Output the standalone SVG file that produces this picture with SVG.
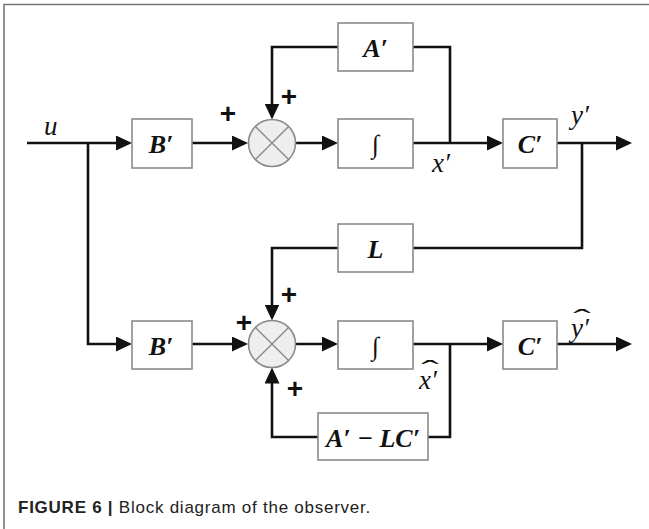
<svg xmlns="http://www.w3.org/2000/svg" width="649" height="529" viewBox="0 0 649 529">
<style>
.wire{fill:none;stroke:#111;stroke-width:2.6}
.box{fill:#fff;stroke:#8a8a8a;stroke-width:1.6}
.sum{fill:#eeeeee;stroke:#8a8a8a;stroke-width:1.6}
.sx{stroke:#8a8a8a;stroke-width:1.4}
.m{font-family:"Liberation Serif","DejaVu Serif",serif;font-weight:bold;font-style:italic;font-size:26px;fill:#111;text-anchor:middle;dominant-baseline:central}
.v{font-family:"Liberation Serif","DejaVu Serif",serif;font-style:italic;font-size:27px;fill:#111}
.hat{font-family:"Liberation Serif","DejaVu Serif",serif;font-size:26px;fill:#111;text-anchor:middle}
.int{font-family:"Liberation Serif","DejaVu Serif",serif;font-size:26px;fill:#111;text-anchor:middle;dominant-baseline:central}
.pl{font-family:"Liberation Sans",Arial,sans-serif;font-weight:bold;font-size:28px;fill:#111;text-anchor:middle;dominant-baseline:central}
.cap{font-family:"Liberation Sans",Arial,sans-serif;font-size:17px;letter-spacing:0.75px;fill:#222}
</style>
<defs>
<marker id="ah" viewBox="0 0 16 15" refX="8" refY="7.5" markerWidth="16" markerHeight="15" markerUnits="userSpaceOnUse" orient="auto">
<path d="M0,0 L16,7.5 L0,15 Z" fill="#111"/>
</marker>
</defs>
<rect width="649" height="529" fill="#fff"/>
<path d="M4,529 V4.5 H649" fill="none" stroke="#777" stroke-width="1.6"/>

<g id="connectors">
<path class="wire" d="M27,143 H124" marker-end="url(#ah)"/>
<path class="wire" d="M88,143 V344 H124" marker-end="url(#ah)"/>
<path class="wire" d="M192,143 H240" marker-end="url(#ah)"/>
<path class="wire" d="M295.5,143 H330" marker-end="url(#ah)"/>
<path class="wire" d="M413,47 H450 V143"/>
<path class="wire" d="M338,47 H272 V111.5" marker-end="url(#ah)"/>
<path class="wire" d="M413,143 H495" marker-end="url(#ah)"/>
<path class="wire" d="M557,143 H624" marker-end="url(#ah)"/>
<path class="wire" d="M582,143 V248 H413"/>
<path class="wire" d="M338,248 H272 V312.5" marker-end="url(#ah)"/>
<path class="wire" d="M192,344 H240" marker-end="url(#ah)"/>
<path class="wire" d="M295.5,344 H330" marker-end="url(#ah)"/>
<path class="wire" d="M413,344 H495" marker-end="url(#ah)"/>
<path class="wire" d="M557,344 H624" marker-end="url(#ah)"/>
<path class="wire" d="M450,344 V437 H427"/>
<path class="wire" d="M318,437 H272 V375.5" marker-end="url(#ah)"/>
</g>

<g id="B1"><rect class="box" x="132" y="119" width="60" height="49"/><text class="m" x="161" y="144">B′</text></g>
<g id="sum1"><circle class="sum" cx="272" cy="143" r="23.5"/><path class="sx" d="M255.4,126.4 L288.6,159.6 M288.6,126.4 L255.4,159.6"/></g>
<g id="A1"><rect class="box" x="338" y="23" width="75" height="48"/><text class="m" x="375.5" y="48">A′</text></g>
<g id="I1"><rect class="box" x="338" y="119" width="75" height="49"/><text class="int" x="375.5" y="144">∫</text></g>
<g id="C1"><rect class="box" x="503" y="119" width="54" height="49"/><text class="m" x="530" y="144">C′</text></g>
<g id="Lbox"><rect class="box" x="338" y="224" width="75" height="48"/><text class="m" x="375.5" y="249">L</text></g>
<g id="B2"><rect class="box" x="132" y="321" width="60" height="48"/><text class="m" x="161" y="346">B′</text></g>
<g id="sum2"><circle class="sum" cx="272" cy="344" r="23.5"/><path class="sx" d="M255.4,327.4 L288.6,360.6 M288.6,327.4 L255.4,360.6"/></g>
<g id="I2"><rect class="box" x="338" y="321" width="75" height="48"/><text class="int" x="375.5" y="346">∫</text></g>
<g id="C2"><rect class="box" x="503" y="321" width="54" height="48"/><text class="m" x="530" y="346">C′</text></g>
<g id="F2"><rect class="box" x="318" y="413" width="110" height="47"/><text class="m" x="373" y="438">A′ − LC′</text></g>

<g id="labels">
<text class="v" x="44" y="135">u</text>
<text class="v" x="432" y="172">x′</text>
<text class="v" x="571" y="124">y′</text>
<text class="v" x="419" y="389">x′</text>
<text class="hat" x="430" y="378" transform="translate(430,378) scale(2,1) translate(-430,-378)">ˆ</text>
<text class="v" x="571" y="337">y′</text>
<text class="hat" x="582" y="327" transform="translate(582,327) scale(2,1) translate(-582,-327)">ˆ</text>
<text class="pl" x="228" y="113">+</text>
<text class="pl" x="289" y="96">+</text>
<text class="pl" x="244" y="322">+</text>
<text class="pl" x="289" y="294">+</text>
<text class="pl" x="295" y="388">+</text>
</g>

<text class="cap" x="18" y="513"><tspan font-weight="bold">FIGURE 6 |</tspan> Block diagram of the observer.</text>
</svg>
